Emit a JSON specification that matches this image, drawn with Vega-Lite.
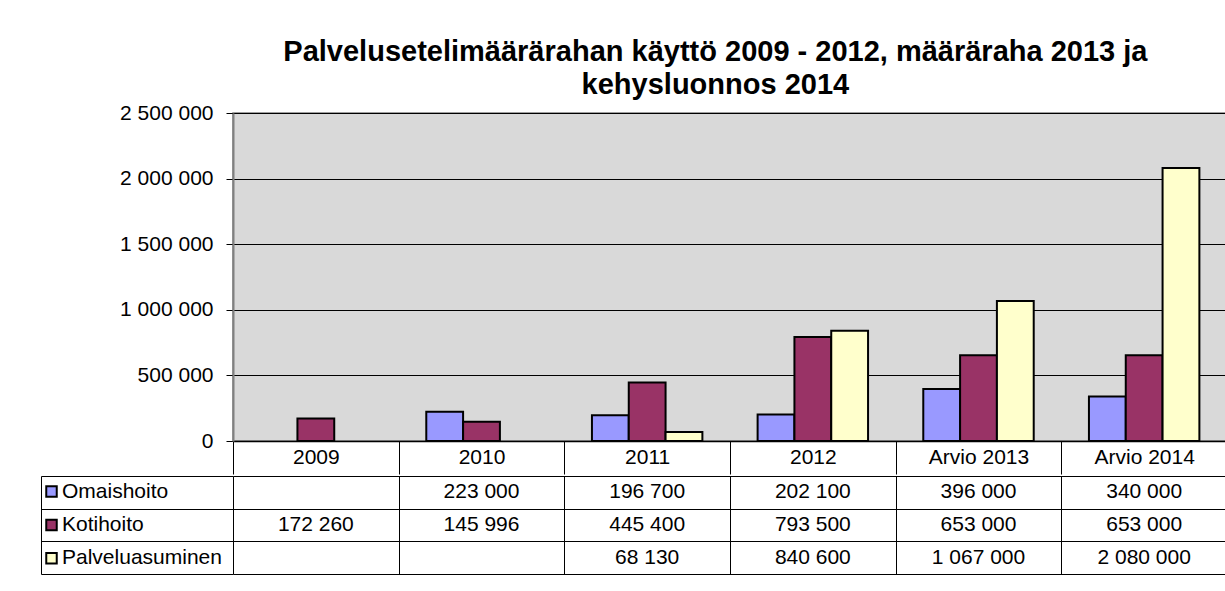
{
  "$schema": "https://vega.github.io/schema/vega-lite/v6.json",
  "padding": {"left": 40, "top": 38, "right": 0, "bottom": 0},
  "background": "white",
  "config": {
    "font": "Liberation Sans",
    "locale": {"number": {"decimal": ",", "thousands": " ", "grouping": [3], "currency": ["", " €"]}},
    "view": {"stroke": null},
    "concat": {"spacing": -3}
  },
  "title": {
    "text": ["Palvelusetelimäärärahan käyttö 2009 - 2012, määräraha 2013 ja", "kehysluonnos 2014"],
    "fontSize": 29,
    "fontWeight": "bold",
    "color": "black",
    "lineHeight": 33,
    "anchor": "middle",
    "dx": 81,
    "offset": 1
  },
  "data": {
    "values": [
      {"year": "2009", "series": "Kotihoito", "value": 172260},
      {"year": "2010", "series": "Omaishoito", "value": 223000},
      {"year": "2010", "series": "Kotihoito", "value": 145996},
      {"year": "2011", "series": "Omaishoito", "value": 196700},
      {"year": "2011", "series": "Kotihoito", "value": 445400},
      {"year": "2011", "series": "Palveluasuminen", "value": 68130},
      {"year": "2012", "series": "Omaishoito", "value": 202100},
      {"year": "2012", "series": "Kotihoito", "value": 793500},
      {"year": "2012", "series": "Palveluasuminen", "value": 840600},
      {"year": "Arvio 2013", "series": "Omaishoito", "value": 396000},
      {"year": "Arvio 2013", "series": "Kotihoito", "value": 653000},
      {"year": "Arvio 2013", "series": "Palveluasuminen", "value": 1067000},
      {"year": "Arvio 2014", "series": "Omaishoito", "value": 340000},
      {"year": "Arvio 2014", "series": "Kotihoito", "value": 653000},
      {"year": "Arvio 2014", "series": "Palveluasuminen", "value": 2080000}
    ]
  },
  "vconcat": [
    {
      "width": 994,
      "height": 328,
      "view": {"fill": "#d9d9d9", "stroke": "#808080", "strokeWidth": 1.5},
      "mark": {"type": "bar", "stroke": "black", "strokeWidth": 2},
      "encoding": {
        "x": {
          "field": "year", "type": "nominal",
          "sort": ["2009", "2010", "2011", "2012", "Arvio 2013", "Arvio 2014"],
          "scale": {"paddingInner": 0, "paddingOuter": 0},
          "axis": {
            "title": null, "labelAngle": 0, "labelFontSize": 21, "labelColor": "black",
            "tickBand": "extent", "tickSize": 33, "tickColor": "black", "tickWidth": 1,
            "domainColor": "black", "domainWidth": 1.5,
            "labelBaseline": "middle", "labelPadding": -17
          }
        },
        "xOffset": {
          "field": "series", "type": "nominal",
          "sort": ["Omaishoito", "Kotihoito", "Palveluasuminen"],
          "scale": {"paddingInner": 0, "paddingOuter": 0.75}
        },
        "y": {
          "field": "value", "type": "quantitative",
          "scale": {"domain": [0, 2500000]},
          "axis": {
            "title": null, "values": [0, 500000, 1000000, 1500000, 2000000, 2500000],
            "format": ",.0f", "labelFontSize": 21, "labelColor": "black", "labelPadding": 13,
            "tickSize": 7, "tickColor": "black", "domainColor": "#808080", "domainWidth": 2,
            "grid": true, "gridColor": "black", "gridWidth": 1
          }
        },
        "color": {
          "field": "series", "type": "nominal",
          "scale": {"domain": ["Omaishoito", "Kotihoito", "Palveluasuminen"], "range": ["#9999ff", "#993366", "#ffffcc"]},
          "legend": {
            "title": null, "orient": "none", "legendX": -192, "legendY": 368,
            "symbolType": "square", "symbolSize": 110, "symbolStrokeColor": "black", "symbolStrokeWidth": 2,
            "labelFontSize": 21, "labelColor": "black", "rowPadding": 11.4, "labelOffset": 0, "symbolOpacity": 1
          }
        }
      }
    },
    {
      "width": 994,
      "height": 98,
      "mark": {"type": "text", "fontSize": 21, "color": "black"},
      "encoding": {
        "x": {
          "field": "year", "type": "nominal",
          "sort": ["2009", "2010", "2011", "2012", "Arvio 2013", "Arvio 2014"],
          "scale": {"paddingInner": 0, "paddingOuter": 0},
          "axis": {"title": null, "labels": false, "ticks": false, "domain": false, "grid": true, "tickBand": "extent", "gridColor": "black", "gridWidth": 1}
        },
        "y": {
          "field": "series", "type": "nominal",
          "sort": ["Omaishoito", "Kotihoito", "Palveluasuminen"],
          "scale": {"paddingInner": 0, "paddingOuter": 0},
          "axis": {"title": null, "labels": false, "offset": 192, "tickBand": "extent", "tickSize": -192, "tickColor": "black", "domainColor": "black", "domainWidth": 1, "grid": true, "gridColor": "black", "gridWidth": 1}
        },
        "text": {"field": "value", "type": "quantitative", "format": ",.0f"}
      }
    }
  ]
}
